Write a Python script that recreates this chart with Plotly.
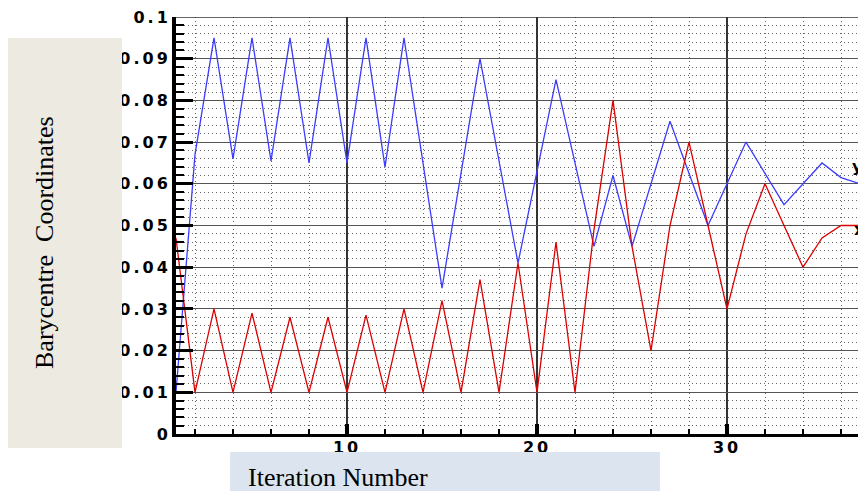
import plotly.graph_objects as go

# ---- data ----
yc_iter = [1, 2, 3, 4, 5, 6, 7, 8, 9, 10, 11, 12, 13, 15, 17, 19, 21, 23, 24, 25, 27, 29, 31, 33, 35, 36, 37, 38]
yc_vals = [0.010, 0.067, 0.095, 0.066, 0.095, 0.0655, 0.095, 0.065, 0.095, 0.065, 0.095, 0.064, 0.095,
           0.035, 0.090, 0.041, 0.085, 0.045, 0.062, 0.045, 0.075, 0.050, 0.070, 0.055, 0.065, 0.0615,
           0.060, 0.060]

xc_iter = [1, 2, 3, 4, 5, 6, 7, 8, 9, 10, 11, 12, 13, 14, 15, 16, 17, 18, 19, 20, 21, 22, 23, 24, 25,
           26, 27, 28, 29, 30, 31, 32, 34, 35, 36, 37, 38]
xc_vals = [0.047, 0.010, 0.030, 0.010, 0.029, 0.010, 0.028, 0.010, 0.028, 0.010,
           0.0285, 0.010, 0.030, 0.010, 0.032, 0.010, 0.037, 0.010, 0.041, 0.010,
           0.046, 0.010, 0.049, 0.080, 0.045, 0.020, 0.050, 0.070, 0.050, 0.030,
           0.048, 0.060, 0.040, 0.047, 0.050, 0.050, 0.050]

x_ticks = [10, 20, 30]
x_tick_text = ["10", "20", "30"]
y_ticks = [0, 0.01, 0.02, 0.03, 0.04, 0.05, 0.06, 0.07, 0.08, 0.09, 0.1]
y_tick_text = ["0", "0.01", "0.02", "0.03", "0.04", "0.05", "0.06", "0.07", "0.08", "0.09", "0.1"]

# page offset (body margin) compensation: page px -> figure px
OFF = 8
W, H = 866, 491
PLOT_LEFT, PLOT_TOP, PLOT_BOTTOM = 176 - OFF, 17 - OFF, 434 - OFF
L, R, T, B = PLOT_LEFT, 0, PLOT_TOP, H - PLOT_BOTTOM
pw, ph = W - L - R, H - T - B


def px_x(p):
    return (p - OFF - L) / pw


def px_y(p):
    return (H - B - (p - OFF)) / ph


def wide(s):
    return '<span style="letter-spacing:3px">' + s + '</span>'


fig = go.Figure()
fig.add_trace(go.Scatter(x=yc_iter, y=yc_vals, mode="lines", name="yc",
                         line=dict(color="#3c3cff", width=1.3)))
fig.add_trace(go.Scatter(x=xc_iter, y=xc_vals, mode="lines", name="xc",
                         line=dict(color="#dd0000", width=1.3)))

tickfont = dict(family="DejaVu Sans", size=16, color="black", weight="bold")

fig.update_xaxes(
    range=[1, 1 + (W - L) / 19.0],
    tickmode="array", tickvals=x_ticks, ticktext=[wide(t) for t in x_tick_text],
    ticks="inside", ticklen=10, tickwidth=4, tickcolor="black",
    showline=True, linewidth=3, linecolor="black",
    showgrid=True, gridcolor="#333333", gridwidth=1.5,
    zeroline=False, tickfont=tickfont, ticklabelstandoff=-3, ticklabeloverflow="allow",
    minor=dict(tick0=0, dtick=2, ticks="inside", ticklen=5, tickwidth=2, tickcolor="black",
               showgrid=True, gridcolor="#666666", gridwidth=1, griddash="1px,3px"),
)
fig.update_yaxes(
    range=[0, 0.1],
    tickmode="array", tickvals=y_ticks, ticktext=[wide(t) for t in y_tick_text],
    ticks="inside", ticklen=17, tickwidth=3, tickcolor="black",
    showline=True, linewidth=4, linecolor="black",
    showgrid=True, gridcolor="#555555", gridwidth=1.3,
    zeroline=False, tickfont=tickfont, ticklabelstandoff=-2, ticklabeloverflow="allow",
    minor=dict(tick0=0, dtick=0.002, ticks="inside", ticklen=8, tickwidth=2, tickcolor="black",
               showgrid=True, gridcolor="#666666", gridwidth=1, griddash="1px,3px"),
)

shapes = [
    dict(type="line", xref="paper", yref="y", x0=0, x1=1, y0=0.1, y1=0.1,
         line=dict(color="#333333", width=1.5), layer="above"),
    dict(type="rect", xref="paper", yref="paper", x0=px_x(8), x1=px_x(122), y0=px_y(448), y1=px_y(38),
         fillcolor="#eceae1", line=dict(width=0), layer="above"),
    dict(type="rect", xref="paper", yref="paper", x0=px_x(230), x1=px_x(660), y0=px_y(500), y1=px_y(452),
         fillcolor="#dbe4ef", line=dict(width=0), layer="above"),
]

annotations = [
    dict(text="Barycentre  Coordinates", xref="paper", yref="paper", x=px_x(45), y=px_y(243),
         textangle=-90, showarrow=False, font=dict(family="Liberation Serif", size=26, color="black"),
         xanchor="center", yanchor="middle"),
    dict(text="Iteration Number", xref="paper", yref="paper", x=px_x(246), y=px_y(477),
         showarrow=False, font=dict(family="Liberation Serif", size=26, color="black"),
         xanchor="left", yanchor="middle"),
    dict(text="<b>yc</b>", xref="paper", yref="paper", x=px_x(850), y=px_y(166),
         showarrow=False, font=dict(family="DejaVu Sans", size=16, color="black"),
         xanchor="left", yanchor="middle"),
    dict(text="<b>xc</b>", xref="paper", yref="paper", x=px_x(852), y=px_y(230),
         showarrow=False, font=dict(family="DejaVu Sans", size=16, color="black"),
         xanchor="left", yanchor="middle"),
]

fig.update_layout(
    width=W, height=H,
    margin=dict(l=L, r=R, t=T, b=B, pad=0),
    paper_bgcolor="white", plot_bgcolor="white",
    showlegend=False,
    shapes=shapes, annotations=annotations,
)

fig.write_html("out.html")
